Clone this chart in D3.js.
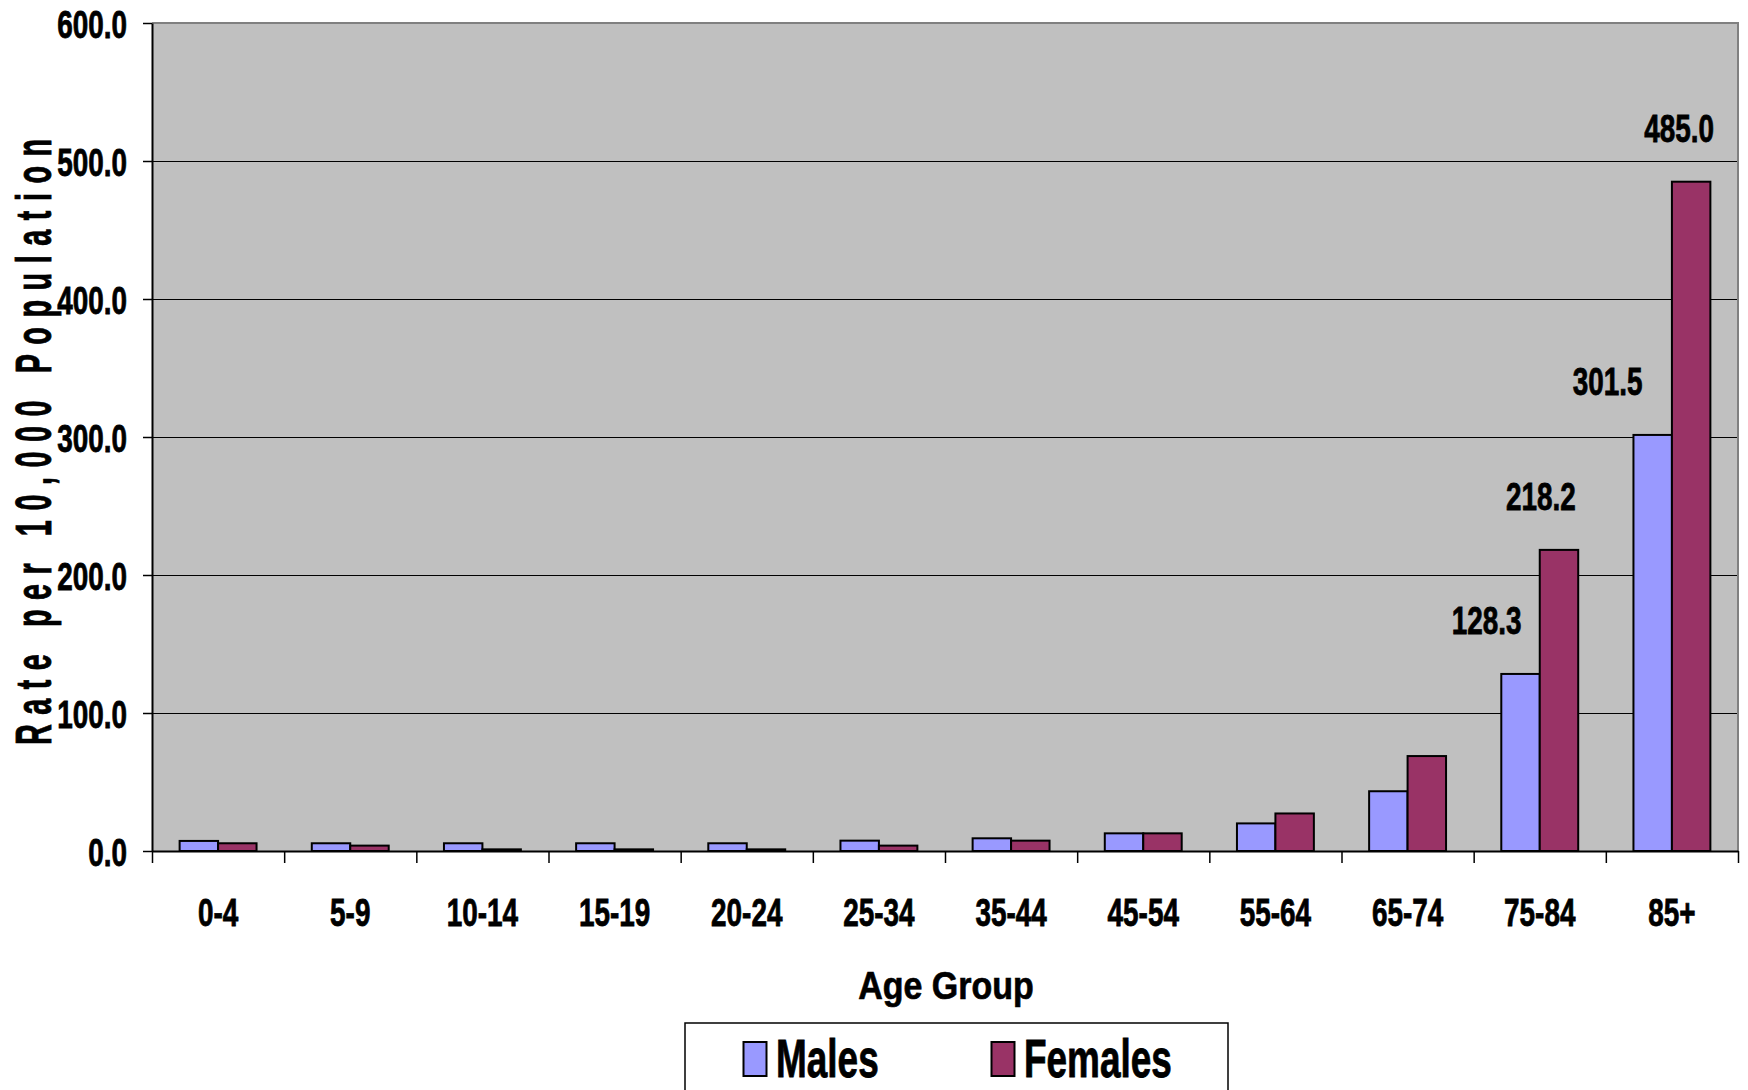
<!DOCTYPE html>
<html>
<head>
<meta charset="utf-8">
<script src="https://cdn.jsdelivr.net/npm/d3@7"></script>
<style>
  html, body { margin: 0; padding: 0; background: #ffffff; }
  svg { display: block; }
  .narrow { font-family: "Liberation Sans", Arial, sans-serif; font-weight: bold; stroke: #000; stroke-width: 0.7px; paint-order: stroke; }
</style>
</head>
<body>
<svg id="chart" width="1748" height="1090"></svg>
<script>
// ---- data ----
const categories = ["0-4", "5-9", "10-14", "15-19", "20-24", "25-34", "35-44", "45-54", "55-64", "65-74", "75-84", "85+"];
const seriesNames = ["Males", "Females"];
const males   = [7.3, 5.6, 5.6, 5.6, 5.6, 7.5, 9.2, 12.8, 20.0, 43.3, 128.3, 301.5];
const females = [5.6, 3.9, 1.2, 1.2, 1.2, 3.9, 7.5, 12.8, 27.2, 68.8, 218.2, 485.0];
const yTicks = [0, 100, 200, 300, 400, 500, 600];
const labelledBars = [
  { category: "75-84", series: "Males" },
  { category: "75-84", series: "Females" },
  { category: "85+", series: "Males" },
  { category: "85+", series: "Females" }
];

// ---- layout / style ----
const colors = { Males: "#9999FF", Females: "#993366" };
const labelShift = { "75-84|Males": -34, "75-84|Females": -18, "85+|Males": -45, "85+|Females": -12 };
const plot = { left: 152, right: 1738, top: 23, bottom: 851 };
const sx = 0.82, sy = 1.13;   // narrow, slightly tall lettering

const svg = d3.select("#chart");
svg.append("rect").attr("width", 1748).attr("height", 1090).attr("fill", "#fff");

const x = d3.scaleBand().domain(categories).range([plot.left, plot.right])
  .paddingInner(0.418).paddingOuter(0.209);
const xs = d3.scaleBand().domain(seriesNames).range([0, x.bandwidth()]).padding(0);
const y = d3.scaleLinear().domain([0, 600]).range([plot.bottom, plot.top]);
const xEdge = d3.scaleLinear().domain([0, categories.length]).range([plot.left, plot.right]);

// plot background
svg.append("rect")
  .attr("x", plot.left).attr("y", plot.top)
  .attr("width", plot.right - plot.left).attr("height", plot.bottom - plot.top)
  .attr("fill", "#C0C0C0");

// gridlines
svg.append("g")
  .attr("transform", `translate(${plot.left},0)`)
  .call(d3.axisLeft(y).tickValues(yTicks.filter(v => v > 0 && v < 600)).tickSize(-(plot.right - plot.left)).tickFormat(""))
  .call(g => g.select(".domain").remove())
  .call(g => g.selectAll("line").attr("stroke", "#000").attr("stroke-width", 1.2));

// top & right border (gray)
svg.append("path")
  .attr("d", `M${plot.left},${plot.top}H${plot.right}V${plot.bottom}`)
  .attr("fill", "none").attr("stroke", "#808080").attr("stroke-width", 2);

// bars
const rows = categories.map((c, i) => ({ category: c, Males: males[i], Females: females[i] }));
const groups = svg.append("g").selectAll("g").data(rows).join("g")
  .attr("transform", d => `translate(${x(d.category)},0)`);
groups.selectAll("rect")
  .data(d => seriesNames.map(s => ({ category: d.category, series: s, value: d[s] })))
  .join("rect")
  .attr("x", d => xs(d.series))
  .attr("y", d => y(d.value))
  .attr("width", xs.bandwidth())
  .attr("height", d => y(0) - y(d.value))
  .attr("fill", d => colors[d.series])
  .attr("stroke", "#000").attr("stroke-width", 2);

// y axis
svg.append("g")
  .attr("transform", `translate(${plot.left},0)`)
  .call(d3.axisLeft(y).tickValues(yTicks).tickSizeInner(9).tickSizeOuter(0).tickFormat(d3.format(".1f")))
  .call(g => g.select(".domain").attr("stroke", "#000").attr("stroke-width", 2))
  .call(g => g.selectAll("line").attr("stroke", "#000").attr("stroke-width", 1.5))
  .call(g => g.selectAll("text")
    .attr("class", "narrow").attr("font-size", 34).attr("fill", "#000")
    .attr("x", 0).attr("dy", 0).attr("y", 0)
    .attr("text-anchor", "end")
    .attr("transform", `translate(-25,14.5) scale(${sx},${sy})`));

// x axis baseline + boundary ticks
svg.append("g")
  .attr("transform", `translate(0,${plot.bottom})`)
  .call(d3.axisBottom(xEdge).ticks(categories.length).tickSizeInner(12).tickSizeOuter(0).tickFormat(""))
  .call(g => g.select(".domain").attr("stroke", "#000").attr("stroke-width", 2))
  .call(g => g.selectAll("line").attr("stroke", "#000").attr("stroke-width", 1.5));

// x axis labels
svg.append("g")
  .attr("transform", `translate(0,${plot.bottom})`)
  .call(d3.axisBottom(x).tickSize(0))
  .call(g => g.select(".domain").remove())
  .call(g => g.selectAll("text")
    .attr("class", "narrow").attr("font-size", 34).attr("fill", "#000")
    .attr("y", 0).attr("dy", 0)
    .attr("transform", `translate(0,75) scale(${sx},${sy})`));

// data labels
svg.append("g").selectAll("text").data(labelledBars).join("text")
  .attr("class", "narrow").attr("font-size", 34).attr("text-anchor", "middle").attr("fill", "#000")
  .attr("transform", d => {
    const i = categories.indexOf(d.category);
    const v = (d.series === "Males" ? males : females)[i];
    const cx = x(d.category) + xs(d.series) + xs.bandwidth() / 2 + labelShift[d.category + "|" + d.series];
    const cy = y(v) - 54 + 14;
    return `translate(${cx},${cy}) scale(${sx},${sy})`;
  })
  .text(d => {
    const i = categories.indexOf(d.category);
    return d3.format(".1f")((d.series === "Males" ? males : females)[i]);
  });

// axis titles
svg.append("text")
  .attr("class", "narrow").attr("font-size", 40).attr("text-anchor", "middle")
  .attr("transform", `translate(${(plot.left + plot.right) / 2 + 1},999) scale(0.85,0.97)`)
  .text("Age Group");

svg.append("text")
  .attr("class", "narrow")
  .attr("font-size", 40).attr("text-anchor", "middle")
  .attr("transform", `translate(51,442) rotate(-90) scale(0.72,1.25)`)
  .attr("textLength", 842).attr("lengthAdjust", "spacing")
  .text("Rate per 10,000 Population");

// legend
const legend = svg.append("g");
legend.append("rect")
  .attr("x", 685).attr("y", 1023).attr("width", 543).attr("height", 90)
  .attr("fill", "#fff").attr("stroke", "#000").attr("stroke-width", 1.5);
const legendPos = { Males: { sx: 743.5, tx: 776 }, Females: { sx: 991.5, tx: 1024 } };
seriesNames.forEach(s => {
  legend.append("rect")
    .attr("x", legendPos[s].sx).attr("y", 1042).attr("width", 23).attr("height", 34)
    .attr("fill", colors[s]).attr("stroke", "#000").attr("stroke-width", 2);
  legend.append("text")
    .attr("class", "narrow").attr("font-size", 44)
    .attr("transform", `translate(${legendPos[s].tx},1077) scale(0.84,1.2)`)
    .text(s);
});
</script>
</body>
</html>
